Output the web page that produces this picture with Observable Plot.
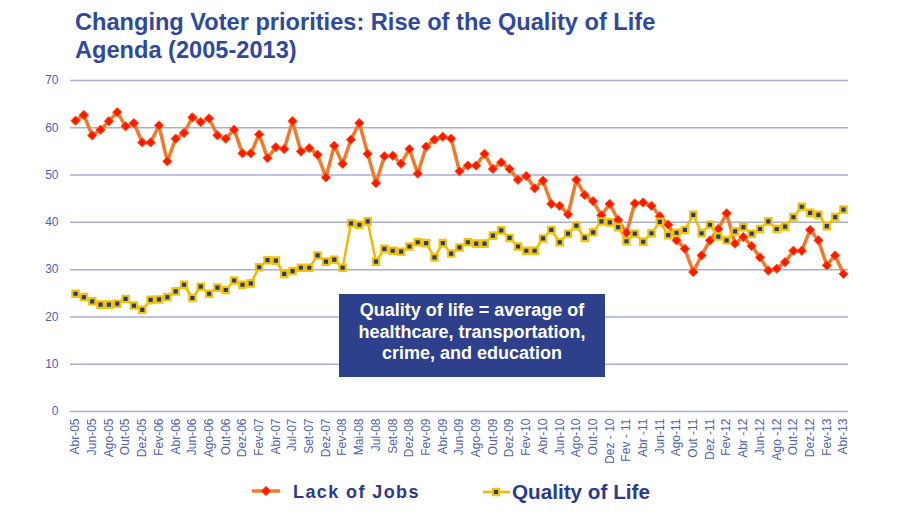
<!DOCTYPE html>
<html><head><meta charset="utf-8">
<script src="https://cdn.jsdelivr.net/npm/d3@7"></script>
<script src="https://cdn.jsdelivr.net/npm/@observablehq/plot@0.6"></script>
<style>
html,body{margin:0;padding:0;background:#fff;}
body{width:900px;height:520px;position:relative;overflow:hidden;font-family:"Liberation Sans",Arial,sans-serif;}
#title{position:absolute;left:75px;top:8px;font-weight:bold;font-size:23.6px;line-height:28px;color:#2f4a9b;white-space:nowrap;}
#chart{position:absolute;left:0;top:0;}
#note{position:absolute;left:339px;top:294px;width:266px;height:83px;background:#2e3f8c;color:#fff;font-weight:bold;font-size:18px;line-height:21.5px;text-align:center;box-sizing:border-box;padding-top:6px;}
#legend{position:absolute;left:0;top:0;}
</style></head>
<body>
<div id="chart"></div>
<div id="title">Changing Voter priorities: Rise of the Quality of Life<br>Agenda (2005-2013)</div>
<div id="note">Quality of life = average of<br>healthcare, transportation,<br>crime, and education</div>
<svg id="legend" width="900" height="520"></svg>
<script>
const tickLabels = ["Abr-05","Jun-05","Ago-05","Out-05","Dez-05","Fev-06","Abr-06","Jun-06","Ago-06","Out-06","Dez-06","Fev-07","Abr-07","Jul-07","Set-07","Dez-07","Fev-08","Mai-08","Jul-08","Set-08","Dez-08","Fev-09","Abr-09","Jun-09","Ago-09","Out-09","Dez-09","Fev-10","Abr-10","Jun-10","Ago-10","Out-10","Dez - 10","Fev - 11","Abr -11","Jun-11","Ago-11","Out -11","Dez -11","Fev-12","Abr -12","Jun-12","Ago -12","Out-12","Dez-12","Fev-13","Abr-13"];
const yTicks = [0,10,20,30,40,50,60,70];
const lackOfJobs = [61.5,62.7,58.4,59.6,61.4,63.3,60.3,61.0,56.9,56.9,60.5,52.9,57.7,58.9,62.2,61.2,62.0,58.4,57.7,59.6,54.6,54.6,58.6,53.6,55.9,55.5,61.4,55.0,55.7,54.3,49.5,56.2,52.4,57.5,61.0,54.5,48.3,54.0,54.1,52.4,55.5,50.3,56.0,57.5,58.1,57.7,50.8,52.0,52.0,54.5,51.3,52.7,51.3,49.0,49.8,47.2,48.8,43.9,43.5,41.7,49.0,45.8,44.5,41.5,43.9,40.5,37.8,44.0,44.2,43.5,41.3,39.5,36.2,34.4,29.5,33.0,36.2,38.6,41.9,35.5,36.9,35.0,32.6,29.8,30.2,31.6,34.0,34.0,38.4,36.2,30.9,33.0,29.1];
const qualityOfLife = [24.9,24.2,23.3,22.6,22.6,22.8,23.8,22.4,21.5,23.6,23.7,24.2,25.4,26.8,24.0,26.4,24.9,26.2,25.7,27.7,26.8,27.1,30.5,32.0,31.9,29.1,29.7,30.4,30.4,33.0,31.7,32.1,30.4,39.8,39.5,40.2,31.7,34.4,34.0,33.8,34.9,35.8,35.6,32.6,35.6,33.4,34.7,35.8,35.5,35.5,37.2,38.3,36.7,34.9,34.0,34.0,36.6,38.4,35.8,37.6,39.3,36.7,37.9,40.2,40.0,39.0,36.0,37.6,35.9,37.7,40.1,37.3,37.8,38.4,41.6,37.7,39.5,37.0,36.2,38.1,39.0,37.6,38.6,40.2,38.6,39.1,41.1,43.3,42.0,41.6,39.2,41.1,42.7];

const jobs = lackOfJobs.map((v,i)=>({i,v}));
const qol = qualityOfLife.map((v,i)=>({i,v}));

const chart = Plot.plot({
  width:900, height:520,
  marginTop:80, marginBottom:109, marginLeft:70, marginRight:52,
  style:{background:"transparent", fontFamily:"Liberation Sans, Arial, sans-serif", fontSize:"12px", color:"#4f5fb0"},
  x:{domain:[-0.6,92.6], ticks:d3.range(0,93,2), tickFormat:i=>tickLabels[i/2], tickRotate:-90, tickSize:0, tickPadding:7, label:null},
  y:{domain:[0,70], ticks:yTicks, tickSize:0, tickPadding:12, label:null},
  marks:[
    Plot.gridY(yTicks,{stroke:"#a9aed6", strokeOpacity:1, strokeWidth:1.5}),
    Plot.lineY(jobs,{x:"i", y:"v", stroke:"#f07a2c", strokeWidth:3.5}),
    Plot.dot(jobs,{x:"i", y:"v", symbol:"diamond2", r:4.2, fill:"#ff1800", stroke:"#ff5a10", strokeWidth:1}),
    Plot.lineY(qol,{x:"i", y:"v", stroke:"#f2b705", strokeWidth:2.5}),
    Plot.dot(qol,{x:"i", y:"v", symbol:"square", r:3.6, fill:"#273a86", stroke:"#f5c400", strokeWidth:2.2})
  ]
});
document.getElementById("chart").appendChild(chart);

// legend
const lg = d3.select("#legend");
const ff = "Liberation Sans, Arial, sans-serif";
lg.append("rect").attr("x",282).attr("y",477).attr("width",175).attr("height",26).attr("fill","#fff");
lg.append("line").attr("x1",252).attr("x2",280).attr("y1",491).attr("y2",491).attr("stroke","#f07a2c").attr("stroke-width",3.5);
lg.append("path").attr("d",d3.symbol(d3.symbolDiamond2, Math.PI*4.2*4.2)()).attr("transform","translate(266,491)").attr("fill","#ff1800").attr("stroke","#ff5a10");
lg.append("text").attr("x",293).attr("y",498).attr("font-size",18).attr("font-weight","bold").attr("letter-spacing",1.4).attr("fill","#2b3990").attr("font-family",ff).text("Lack of Jobs");
lg.append("line").attr("x1",483).attr("x2",510).attr("y1",492).attr("y2",492).attr("stroke","#f2b705").attr("stroke-width",2.5);
lg.append("path").attr("d",d3.symbol(d3.symbolSquare, Math.PI*3.6*3.6)()).attr("transform","translate(496,492)").attr("fill","#273a86").attr("stroke","#f5c400").attr("stroke-width",2.2);
lg.append("text").attr("x",512).attr("y",499).attr("font-size",20.7).attr("font-weight","bold").attr("fill","#2b3990").attr("font-family",ff).text("Quality of Life");
</script>
</body></html>
